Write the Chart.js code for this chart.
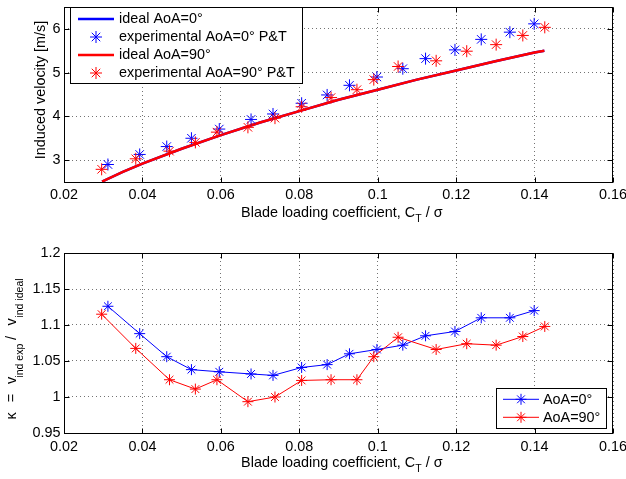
<!DOCTYPE html>
<html><head><meta charset="utf-8">
<script src="https://cdn.jsdelivr.net/npm/chart.js@4/dist/chart.umd.min.js"></script>
<style>
html,body{margin:0;padding:0;background:#fff;}
#wrap{position:relative;width:626px;height:479px;overflow:hidden;background:#fff;}
#c1{position:absolute;left:0;top:0;}
#c2{position:absolute;left:0;top:240px;}
</style></head><body>
<div id="wrap"><canvas id="c1" width="626" height="240"></canvas><canvas id="c2" width="626" height="239"></canvas></div>
<script>
const FONT = "'Liberation Sans', Arial, Helvetica, sans-serif";
const FS = 14.4;

// ---- data ----
const xTickValues = [0.02, 0.04, 0.06, 0.08, 0.10, 0.12, 0.14, 0.16];
const vTickValues = [3, 4, 5, 6];
const kTickValues = [0.95, 1, 1.05, 1.1, 1.15, 1.2];

const ctBlue = [0.0312, 0.0393, 0.0462, 0.0525, 0.0596, 0.0677, 0.0733, 0.0806, 0.0871, 0.0928, 0.0998, 0.1064, 0.1122, 0.1197, 0.1264, 0.1337, 0.1399];
const ctRed  = [0.0296, 0.0383, 0.0469, 0.0535, 0.0590, 0.0669, 0.0738, 0.0806, 0.0881, 0.0947, 0.0990, 0.1052, 0.1149, 0.1227, 0.1302, 0.1370, 0.1426];

const vExpBlue = [2.90, 3.13, 3.31, 3.50, 3.71, 3.93, 4.055, 4.30, 4.49, 4.71, 4.90, 5.09, 5.32, 5.52, 5.76, 5.925, 6.115];
const vExpRed  = [2.79, 3.03, 3.205, 3.405, 3.64, 3.75, 3.96, 4.22, 4.43, 4.61, 4.84, 5.14, 5.27, 5.49, 5.64, 5.85, 6.035];

const ctIdeal = [0.0297, 0.035, 0.04, 0.05, 0.06, 0.07, 0.08, 0.09, 0.10, 0.11, 0.12, 0.13, 0.14, 0.1425];
const vIdeal  = [2.51, 2.73, 2.92, 3.26, 3.57, 3.86, 4.12, 4.38, 4.61, 4.84, 5.05, 5.26, 5.46, 5.50];

const kappaBlue = [1.126, 1.088, 1.056, 1.038, 1.035, 1.032, 1.030, 1.041, 1.045, 1.060, 1.066, 1.072, 1.085, 1.091, 1.110, 1.110, 1.120];
const kappaRed  = [1.115, 1.0675, 1.024, 1.011, 1.024, 0.9935, 1.000, 1.023, 1.024, 1.024, 1.056, 1.083, 1.066, 1.074, 1.072, 1.084, 1.098];

const topLegendLabels = ['ideal AoA=0°', 'experimental AoA=0° P&T', 'ideal AoA=90°', 'experimental AoA=90° P&T'];
const bottomLegendLabels = ['AoA=0°', 'AoA=90°'];
const xTitleMain = 'Blade loading coefficient, C';
const xTitleSub = 'T';
const xTitleTail = ' / σ';
const vTitle = 'Induced velocity [m/s]';

const BLUE = '#0000ff', RED = '#ff0000';

function pts(xs, ys) { return xs.map((x, i) => ({x: x, y: ys[i]})); }
function fmt(v) { return String(+(+v).toFixed(2)); }

function drawStar(ctx, x, y, r, color) {
  ctx.save();
  ctx.strokeStyle = color; ctx.lineWidth = 1;
  ctx.beginPath();
  for (let k = 0; k < 4; k++) {
    const a = k * Math.PI / 4;
    const dx = Math.cos(a) * r, dy = Math.sin(a) * r;
    ctx.moveTo(x - dx, y - dy); ctx.lineTo(x + dx, y + dy);
  }
  ctx.stroke();
  ctx.restore();
}

function drawFrame(chart, xs, ys) {
  const {ctx, chartArea: a} = chart;
  const sx = chart.scales.x, sy = chart.scales.y;
  const L = Math.round(a.left) + 0.5, R = Math.round(a.right) - 0.5;
  const T = Math.round(a.top) + 0.5, B = Math.round(a.bottom) + 0.5;
  ctx.save();
  ctx.strokeStyle = '#000'; ctx.lineWidth = 1;
  ctx.beginPath();
  xs.forEach(v => {
    const p = Math.round(sx.getPixelForValue(v)) + 0.5;
    ctx.moveTo(p, B); ctx.lineTo(p, B - 5);
    ctx.moveTo(p, T); ctx.lineTo(p, T + 5);
  });
  ys.forEach(v => {
    const p = Math.round(sy.getPixelForValue(v)) + 0.5;
    ctx.moveTo(L, p); ctx.lineTo(L + 5, p);
    ctx.moveTo(R, p); ctx.lineTo(R - 5, p);
  });
  ctx.stroke();
  ctx.strokeRect(L, T, R - L, B - T);
  ctx.restore();
}

function drawXTitle(ctx, cx, baseline) {
  ctx.save();
  ctx.fillStyle = '#000';
  ctx.textBaseline = 'alphabetic'; ctx.textAlign = 'left';
  const fMain = FS + 'px ' + FONT, fSub = '10.5px ' + FONT;
  ctx.font = fMain; const w1 = ctx.measureText(xTitleMain).width; const w3 = ctx.measureText(xTitleTail).width;
  ctx.font = fSub; const w2 = ctx.measureText(xTitleSub).width;
  let x = cx - (w1 + w2 + w3) / 2;
  ctx.font = fMain; ctx.fillText(xTitleMain, x, baseline); x += w1;
  ctx.font = fSub; ctx.fillText(xTitleSub, x, baseline + 5); x += w2;
  ctx.font = fMain; ctx.fillText(xTitleTail, x, baseline);
  ctx.restore();
}

function drawLegendBox(ctx, box, rows) {
  ctx.save();
  ctx.fillStyle = '#fff';
  ctx.fillRect(box.x, box.y, box.w, box.h);
  ctx.strokeStyle = '#000'; ctx.lineWidth = 1;
  ctx.strokeRect(box.x + 0.5, box.y + 0.5, box.w, box.h);
  ctx.font = FS + 'px ' + FONT; ctx.textBaseline = 'middle'; ctx.textAlign = 'left'; ctx.fillStyle = '#000';
  rows.forEach(r => {
    if (r.line) {
      ctx.strokeStyle = r.color; ctx.lineWidth = r.lw;
      ctx.beginPath(); ctx.moveTo(r.x0, r.y); ctx.lineTo(r.x1, r.y); ctx.stroke();
    }
    if (r.star) drawStar(ctx, (r.x0 + r.x1) / 2, r.y, r.sr, r.color);
    ctx.fillStyle = '#000';
    ctx.fillText(r.text, r.tx, r.y + 0.5);
  });
  ctx.restore();
}

const commonX = {
  type: 'linear', min: 0.02, max: 0.16,
  afterBuildTicks: s => { s.ticks = xTickValues.map(v => ({value: v})); },
  grid: {color: 'rgba(0,0,0,0.55)', lineWidth: 1, drawTicks: false},
  border: {display: false, dash: [1, 3]},
  ticks: {color: '#000', font: {family: FONT, size: FS}, maxRotation: 0, autoSkip: false, callback: v => fmt(v)}
};

// ---------- top chart ----------
const topDecor = {
  id: 'topDecor',
  afterDraw(chart) {
    const ctx = chart.ctx;
    drawFrame(chart, xTickValues, vTickValues);
    // y title
    ctx.save();
    ctx.font = FS + 'px ' + FONT; ctx.fillStyle = '#000';
    ctx.translate(44.5, 90); ctx.rotate(-Math.PI / 2);
    ctx.textAlign = 'center'; ctx.textBaseline = 'alphabetic';
    ctx.fillText(vTitle, 0, 0);
    ctx.restore();
    drawXTitle(ctx, 341.8, 217);
    const rowsY = [19, 37, 55, 73];
    drawLegendBox(ctx, {x: 70, y: 7, w: 232, h: 76}, [
      {line: true, lw: 2.5, color: BLUE, x0: 78, x1: 114, y: rowsY[0], text: topLegendLabels[0], tx: 119},
      {star: true, sr: 6, color: BLUE, x0: 78, x1: 114, y: rowsY[1], text: topLegendLabels[1], tx: 119},
      {line: true, lw: 2.5, color: RED, x0: 78, x1: 114, y: rowsY[2], text: topLegendLabels[2], tx: 119},
      {star: true, sr: 6, color: RED, x0: 78, x1: 114, y: rowsY[3], text: topLegendLabels[3], tx: 119}
    ]);
  }
};

new Chart(document.getElementById('c1'), {
  type: 'scatter',
  data: {datasets: [
    {label: topLegendLabels[0], data: pts(ctIdeal, vIdeal), showLine: true, borderColor: BLUE, borderWidth: 2.5, pointRadius: 0, order: 4},
    {label: topLegendLabels[1], data: pts(ctBlue, vExpBlue), showLine: false, borderColor: BLUE, backgroundColor: BLUE, pointStyle: 'star', pointRadius: 6, pointBorderWidth: 1, order: 2},
    {label: topLegendLabels[2], data: pts(ctIdeal, vIdeal), showLine: true, borderColor: RED, borderWidth: 2.5, pointRadius: 0, order: 3},
    {label: topLegendLabels[3], data: pts(ctRed, vExpRed), showLine: false, borderColor: RED, backgroundColor: RED, pointStyle: 'star', pointRadius: 6, pointBorderWidth: 1, order: 1}
  ]},
  options: {
    responsive: false, animation: false, devicePixelRatio: 1,
    layout: {padding: {left: 0, right: 13, top: 2, bottom: 0}},
    plugins: {legend: {display: false}, tooltip: {enabled: false}},
    scales: {
      x: Object.assign({}, commonX, {
        ticks: Object.assign({}, commonX.ticks, {padding: 4.4}),
        afterFit: s => { s.height = 58; s.paddingLeft = 0; s.paddingRight = 0; }
      }),
      y: {
        type: 'linear', min: 2.5, max: 6.5,
        afterBuildTicks: s => { s.ticks = vTickValues.map(v => ({value: v})); },
        grid: {color: 'rgba(0,0,0,0.55)', lineWidth: 1, drawTicks: false},
        border: {display: false, dash: [1, 3]},
        ticks: {color: '#000', font: {family: FONT, size: FS}, padding: 3.5, callback: v => fmt(v)},
        afterFit: s => { s.width = 64; s.paddingTop = 0; s.paddingBottom = 0; }
      }
    }
  },
  plugins: [topDecor]
});

// ---------- bottom chart ----------
const botDecor = {
  id: 'botDecor',
  afterDraw(chart) {
    const ctx = chart.ctx;
    drawFrame(chart, xTickValues, kTickValues);
    drawXTitle(ctx, 341.8, 226.7);
    // y title pieces (rotated)
    const off = 240;
    const pieces = [
      ['κ', FS, 416, 16], ['=', FS, 398, 16], ['v', FS, 380.5, 16],
      ['ind exp', 10.5, 360.7, 22.5], ['/', FS, 338, 16], ['v', FS, 322, 16],
      ['ind ideal', 10.5, 298, 22.5]
    ];
    ctx.save(); ctx.fillStyle = '#000'; ctx.textAlign = 'center'; ctx.textBaseline = 'alphabetic';
    pieces.forEach(p => {
      ctx.save();
      ctx.font = p[1] + 'px ' + FONT;
      ctx.translate(p[3], p[2] - off); ctx.rotate(-Math.PI / 2);
      ctx.fillText(p[0], 0, 0);
      ctx.restore();
    });
    ctx.restore();
    drawLegendBox(ctx, {x: 496, y: 148, w: 110, h: 40}, [
      {line: true, star: true, lw: 1, sr: 5.5, color: BLUE, x0: 503, x1: 539, y: 159.3, text: bottomLegendLabels[0], tx: 543},
      {line: true, star: true, lw: 1, sr: 5.5, color: RED, x0: 503, x1: 539, y: 177.3, text: bottomLegendLabels[1], tx: 543}
    ]);
  }
};

new Chart(document.getElementById('c2'), {
  type: 'scatter',
  data: {datasets: [
    {label: bottomLegendLabels[0], data: pts(ctBlue, kappaBlue), showLine: true, borderColor: BLUE, backgroundColor: BLUE, borderWidth: 1, pointStyle: 'star', pointRadius: 5.5, pointBorderWidth: 1, order: 2},
    {label: bottomLegendLabels[1], data: pts(ctRed, kappaRed), showLine: true, borderColor: RED, backgroundColor: RED, borderWidth: 1, pointStyle: 'star', pointRadius: 5.5, pointBorderWidth: 1, order: 1}
  ]},
  options: {
    responsive: false, animation: false, devicePixelRatio: 1,
    layout: {padding: {left: 0, right: 13, top: 13, bottom: 0}},
    plugins: {legend: {display: false}, tooltip: {enabled: false}},
    scales: {
      x: Object.assign({}, commonX, {
        ticks: Object.assign({}, commonX.ticks, {padding: 5.5}),
        afterFit: s => { s.height = 46; s.paddingLeft = 0; s.paddingRight = 0; }
      }),
      y: {
        type: 'linear', min: 0.95, max: 1.2,
        afterBuildTicks: s => { s.ticks = kTickValues.map(v => ({value: v})); },
        grid: {color: 'rgba(0,0,0,0.55)', lineWidth: 1, drawTicks: false},
        border: {display: false, dash: [1, 3]},
        ticks: {color: '#000', font: {family: FONT, size: FS}, padding: 3.5, callback: v => fmt(v)},
        afterFit: s => { s.width = 64; s.paddingTop = 0; s.paddingBottom = 0; }
      }
    }
  },
  plugins: [botDecor]
});
</script>
</body></html>
